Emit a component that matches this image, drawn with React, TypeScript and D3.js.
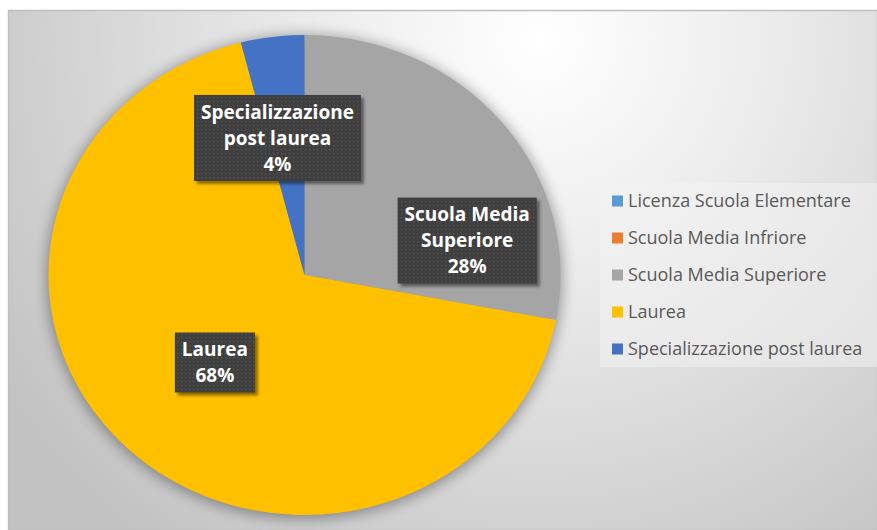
import React, { useEffect, useRef } from "react";
import * as d3 from "d3";

const categories = [
  "Licenza Scuola Elementare",
  "Scuola Media Infriore",
  "Scuola Media Superiore",
  "Laurea",
  "Specializzazione post laurea",
];
const values = [0, 0, 28, 68, 4];
const colors = ["#5B9BD5", "#ED7D31", "#A5A5A5", "#FFC000", "#4472C4"];
const labelNames = [[], [], ["Scuola Media", "Superiore"], ["Laurea"], ["Specializzazione", "post laurea"]];
const labelOffsets = [[0, 0], [0, 0], [64, 42], [-2, 0], [-11, -18]];

const W = 877;
const H = 530;

export default function App() {
  const ref = useRef<SVGSVGElement | null>(null);

  useEffect(() => {
    document.body.style.margin = "0";
    const svg = d3.select(ref.current);
    svg.selectAll("*").remove();

    const defs = svg.append("defs");
    const bg = defs
      .append("radialGradient")
      .attr("id", "bg")
      .attr("gradientUnits", "userSpaceOnUse")
      .attr("cx", 540)
      .attr("cy", 40)
      .attr("r", 640);
    bg.append("stop").attr("offset", "0").attr("stop-color", "#ffffff");
    bg.append("stop").attr("offset", "0.35").attr("stop-color", "#ececec");
    bg.append("stop").attr("offset", "1").attr("stop-color", "#c2c2c2");

    const pieShadow = defs.append("filter").attr("id", "pieShadow").attr("x", "-20%").attr("y", "-20%").attr("width", "140%").attr("height", "140%");
    pieShadow.append("feGaussianBlur").attr("stdDeviation", 7);

    const boxShadow = defs.append("filter").attr("id", "boxShadow").attr("x", "-20%").attr("y", "-20%").attr("width", "140%").attr("height", "140%");
    boxShadow.append("feGaussianBlur").attr("stdDeviation", 1.5);

    const pat = defs
      .append("pattern")
      .attr("id", "dots")
      .attr("patternUnits", "userSpaceOnUse")
      .attr("width", 4)
      .attr("height", 4);
    pat.append("rect").attr("width", 4).attr("height", 4).attr("fill", "#3f3f3f");
    pat.append("rect").attr("x", 1).attr("y", 1).attr("width", 1.3).attr("height", 1.3).attr("fill", "#575757");

    svg
      .append("rect")
      .attr("x", 8.5)
      .attr("y", 10.5)
      .attr("width", W - 8)
      .attr("height", H - 10)
      .attr("fill", "url(#bg)")
      .attr("stroke", "#bfbfbf")
      .attr("stroke-width", 1.5);

    const cx = 304.5;
    const cy = 275;
    const ry = 240;
    const rx = 256;
    const sx = rx / ry;

    const pie = d3
      .pie<number>()
      .sort(null)
      .value((d) => d)
      .startAngle(0)
      .endAngle(2 * Math.PI);
    const arcs = pie(values);
    const arc = d3.arc<d3.PieArcDatum<number>>().innerRadius(0).outerRadius(ry);

    svg
      .append("ellipse")
      .attr("cx", cx)
      .attr("cy", cy + 2)
      .attr("rx", rx + 2)
      .attr("ry", ry + 2)
      .attr("fill", "#000")
      .attr("opacity", 0.35)
      .attr("filter", "url(#pieShadow)");

    const g = svg.append("g").attr("transform", `translate(${cx},${cy}) scale(${sx},1)`);
    g.selectAll("path")
      .data(arcs)
      .join("path")
      .attr("d", (d) => arc(d) as string)
      .attr("fill", (d, i) => colors[i]);

    const total = d3.sum(values);
    const lineH = 26;
    const fs = 19;
    arcs.forEach((a, i) => {
      if (a.data === 0) return;
      const [mx, my] = arc.centroid(a);
      const lx = cx + mx * sx + labelOffsets[i][0];
      const ly = cy + my + labelOffsets[i][1];
      const lines = [...labelNames[i], `${Math.round((a.data / total) * 100)}%`];
      const lg = svg.append("g");
      const shadowRect = lg.append("rect");
      const rect = lg.append("rect");
      const tg = lg.append("g");
      let maxW = 0;
      lines.forEach((t, j) => {
        const tx = tg
          .append("text")
          .attr("x", lx)
          .attr("y", ly - ((lines.length - 1) * lineH) / 2 + j * lineH + fs * 0.36)
          .attr("text-anchor", "middle")
          .attr("font-family", "'Open Sans', sans-serif")
          .attr("font-weight", "bold")
          .attr("font-size", fs)
          .attr("fill", "#ffffff")
          .text(t);
        const w = (tx.node() as SVGTextElement).getComputedTextLength();
        maxW = Math.max(maxW, w);
      });
      const bw = maxW + 14;
      const bh = lines.length * lineH + 8;
      shadowRect
        .attr("x", lx - bw / 2 + 3)
        .attr("y", ly - bh / 2 + 3)
        .attr("width", bw)
        .attr("height", bh)
        .attr("fill", "#000")
        .attr("opacity", 0.45)
        .attr("filter", "url(#boxShadow)");
      rect
        .attr("x", lx - bw / 2)
        .attr("y", ly - bh / 2)
        .attr("width", bw)
        .attr("height", bh)
        .attr("fill", "url(#dots)");
    });

    const lgX = 600;
    const lgY = 183;
    svg
      .append("rect")
      .attr("x", lgX)
      .attr("y", lgY)
      .attr("width", W - lgX)
      .attr("height", 184)
      .attr("fill", "#f4f4f4")
      .attr("opacity", 0.5);
    const ys = d3.scalePoint<string>().domain(categories).range([201, 349]);
    const leg = svg.append("g");
    categories.forEach((c, i) => {
      const y = ys(c) as number;
      leg
        .append("rect")
        .attr("x", 612)
        .attr("y", y - 5.5)
        .attr("width", 11)
        .attr("height", 11)
        .attr("fill", colors[i]);
      leg
        .append("text")
        .attr("x", 628)
        .attr("y", y + 6)
        .attr("font-family", "'Open Sans', sans-serif")
        .attr("font-size", 18)
        .attr("fill", "#595959")
        .text(c);
    });
  }, []);

  return <svg ref={ref} width={W} height={H} style={{ display: "block" }} />;
}
